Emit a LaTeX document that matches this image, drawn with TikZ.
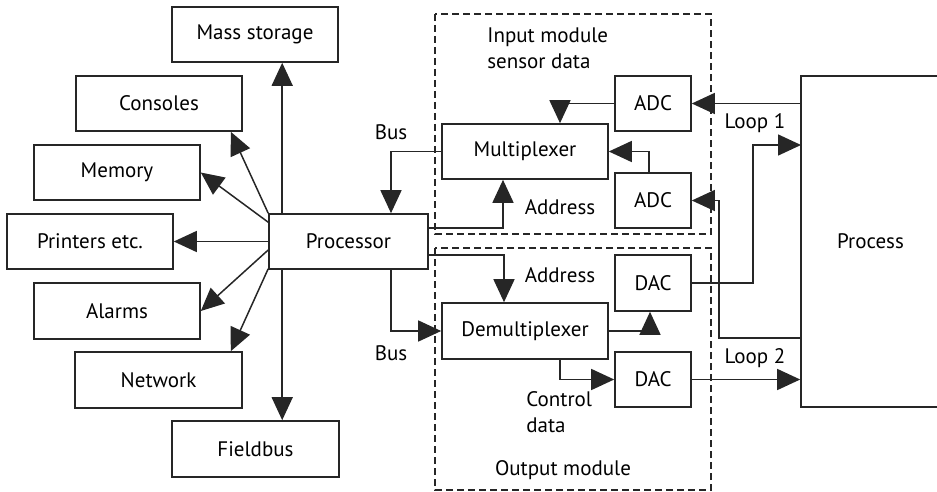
\documentclass[tikz,border=0pt]{standalone}
\usepackage{fontspec}
\setmainfont{PT Sans}
\usetikzlibrary{arrows.meta}
\begin{document}
\begin{tikzpicture}[x=.5pt,y=-.5pt,line cap=butt,line join=miter,
  kasten/.style={draw=black!85,line width=.8pt,minimum height=27.5pt,inner sep=0pt,font=\fontsize{10.5}{13}\selectfont},
  pfeil/.style={draw=black!85,line width=.75pt,-{Triangle[length=11.5pt,width=10.5pt]}},
  modul/.style={draw=black!85,line width=.75pt,dash pattern=on 3.5pt off 2pt},
  marke/.style={font=\fontsize{10.5}{13}\selectfont,inner sep=0pt}]
\useasboundingbox (0,0) rectangle (937,492);
\clip (0,0) rectangle (937,492);
% Rechner mit seinen Geraeten links
\node[kasten,minimum width=79.5pt] (proc) at (348.5,241.5){Processor};
\node[kasten,minimum width=83pt] (mass) at (255,34.5){Mass storage};
\node[kasten,minimum width=83pt] (cons) at (159,103.5){Consoles};
\node[kasten,minimum width=83pt] (mem) at (117,172.5){Memory};
\node[kasten,minimum width=83pt] (print) at (90,241.5){Printers etc.};
\node[kasten,minimum width=83pt,minimum height=28pt] (alarm) at (117,311){Alarms};
\node[kasten,minimum width=83.5pt,minimum height=28pt] (net) at (158.5,380){Network};
\node[kasten,minimum width=83.5pt,minimum height=28pt] (field) at (255.5,449){Fieldbus};
\draw[pfeil] ([xshift=7pt]proc.north west) -- ([xshift=7pt]proc.north west |- mass.south);
\draw[pfeil] ([xshift=7pt]proc.south west) -- ([xshift=7pt]proc.south west |- field.north);
\draw[pfeil] (proc.north west) -- ([xshift=-6pt]cons.south east);
\draw[pfeil] ([yshift=-4.5pt]proc.north west) -- (mem.east);
\draw[pfeil] (proc.west) -- (print.east);
\draw[pfeil] ([yshift=-4.25pt]proc.west) -- (alarm.east);
\draw[pfeil] ([yshift=.5pt]proc.south west) -- ([xshift=-6pt]net.north east);
% Eingabemodul
\draw[modul] (435,14) rectangle (711,234);
\node[marke,anchor=west,align=left] (inlbl) at (487,48){Input module\\sensor data};
\node[kasten,minimum width=83pt] (mux) at (525,151.5){Multiplexer};
\node[kasten,minimum width=38pt] (adcA) at (653,103.5){ADC};
\node[kasten,minimum width=38pt] (adcB) at (653,200.5){ADC};
\draw[pfeil] (adcA.west) -| ([xshift=17.5pt]mux.north);
\draw[pfeil] ([xshift=-2pt]adcB.north) |- (mux.east);
\draw[pfeil] (mux.west) -| ([xshift=21.25pt]proc.north);
\draw[pfeil] ([yshift=6.75pt]proc.east) -| ([xshift=-11pt]mux.south);
\node[marke] (busA) at (391,132){Bus};
\node[marke] (adrA) at (560,207){Address};
% Ausgabemodul
\draw[modul] (435,248) rectangle (711,490);
\node[kasten,minimum width=83pt,minimum height=28pt] (dmux) at (525,331){Demultiplexer};
\node[kasten,minimum width=38pt,minimum height=28pt] (dacA) at (653,283){DAC};
\node[kasten,minimum width=38pt] (dacB) at (653,379.5){DAC};
\draw[pfeil] ([yshift=-6.75pt]proc.east) -| ([xshift=-10.5pt]dmux.north);
\draw[pfeil] ([xshift=21.25pt]proc.south) |- (dmux.west);
\draw[pfeil] (dmux.east) -| ([xshift=-1.5pt]dacA.south);
\draw[pfeil] ([xshift=17.5pt]dmux.south) |- (dacB.west);
\node[marke] (busB) at (391,353){Bus};
\node[marke] (adrB) at (560,275){Address};
\node[marke,anchor=west,align=left] (ctl) at (526,412){Control\\data};
\node[marke] (outlbl) at (563,470){Output module};
% Prozess mit den beiden Regelkreisen
\node[kasten,minimum width=69.5pt,minimum height=165.5pt] (plant) at (870.5,241.5){Process};
\coordinate (loopA) at (801,145);
\coordinate (ruecB) at (801,338);
\draw[pfeil] (adcA.east -| plant.west) -- (adcA.east);
\draw[pfeil] (dacA.east) -| ([xshift=-24pt]loopA) -- (loopA);
\draw[pfeil] (ruecB) -| ([xshift=13.5pt]adcB.east) -- (adcB.east);
\draw[pfeil] (dacB.east) -- (dacB.east -| plant.west);
\node[marke] (loopAlbl) at (755,123){Loop 1};
\node[marke] (loopBlbl) at (755,358){Loop 2};
\end{tikzpicture}
\end{document}
